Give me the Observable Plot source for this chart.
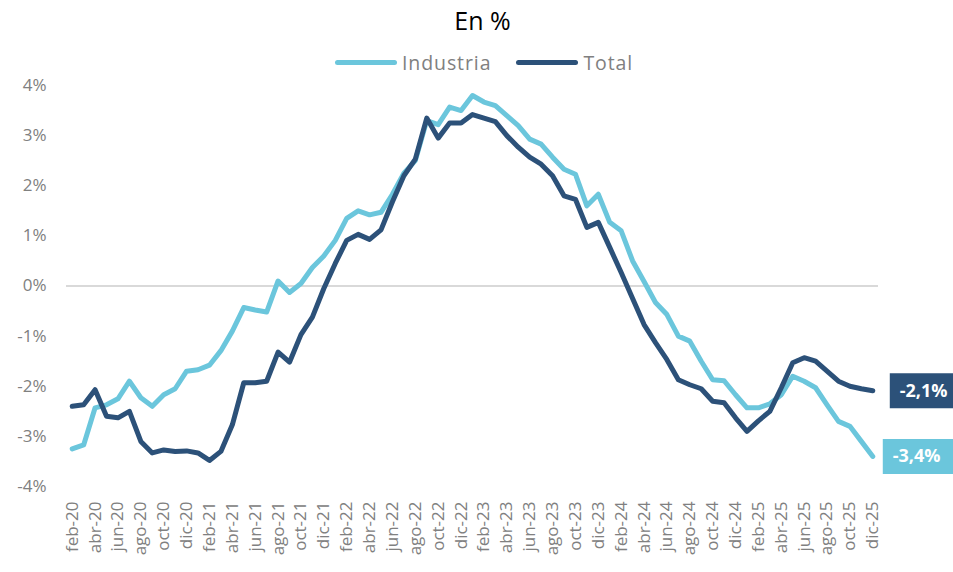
<!DOCTYPE html>
<html>
<head>
<meta charset="utf-8">
<script src="https://cdn.jsdelivr.net/npm/d3@7"></script>
<script src="https://cdn.jsdelivr.net/npm/@observablehq/plot@0.6"></script>
<style>
  body { margin: 0; background: #fff; font-family: "Open Sans", sans-serif; }
  #wrap { width: 953px; height: 572px; overflow: hidden; position: relative; }
  #title { height: 38px; line-height: 40px; text-align: center; font-size: 25px; color: #000; padding-left: 12px; box-sizing: border-box; }
  #legend { height: 32px; padding-top: 16px; box-sizing: border-box; display: flex; justify-content: flex-start; align-items: center; padding-left: 335px; font-size: 19.5px; letter-spacing: 0.9px; color: #808080; }
  .item { display: flex; align-items: center; margin-right: 25px; }
  .sw { display: inline-block; width: 62px; height: 5px; border-radius: 3px; margin-right: 5px; }
</style>
</head>
<body>
<div id="wrap">
  <div id="title">En %</div>
  <div id="legend"></div>
  <div id="chart"></div>
</div>
<script>
// Categories: monthly, feb-20 ... dic-25
const monthNames = ["ene","feb","mar","abr","may","jun","jul","ago","sep","oct","nov","dic"];
const months = [];
for (let yr = 20; yr <= 25; yr++) {
  for (let m = 0; m < 12; m++) {
    if (yr === 20 && m === 0) continue;
    months.push(`${monthNames[m]}-${yr}`);
  }
}

// Series values (%)
const industria = [
  -3.25, -3.17, -2.43, -2.37, -2.25, -1.90, -2.23, -2.40, -2.17, -2.05, -1.70,
  -1.67, -1.58, -1.29, -0.90, -0.43, -0.48, -0.52, 0.10, -0.13, 0.05, 0.37, 0.60,
  0.91, 1.35, 1.50, 1.42, 1.47, 1.83, 2.25, 2.50, 3.30, 3.22, 3.57, 3.50,
  3.80, 3.67, 3.60, 3.40, 3.20, 2.93, 2.83, 2.57, 2.33, 2.23, 1.60, 1.83,
  1.27, 1.10, 0.50, 0.09, -0.33, -0.57, -1.00, -1.10, -1.50, -1.87, -1.89, -2.17,
  -2.43, -2.43, -2.35, -2.17, -1.80, -1.90, -2.03, -2.37, -2.70, -2.80, -3.10, -3.40
];
const total = [
  -2.40, -2.37, -2.07, -2.60, -2.63, -2.50, -3.10, -3.33, -3.27, -3.30, -3.29,
  -3.33, -3.48, -3.30, -2.77, -1.93, -1.93, -1.90, -1.32, -1.52, -0.97, -0.62, -0.05,
  0.45, 0.91, 1.03, 0.93, 1.12, 1.68, 2.20, 2.53, 3.35, 2.95, 3.25, 3.25,
  3.42, 3.35, 3.28, 3.00, 2.77, 2.57, 2.43, 2.20, 1.80, 1.73, 1.17, 1.27,
  0.77, 0.27, -0.25, -0.77, -1.13, -1.47, -1.87, -1.97, -2.05, -2.30, -2.33, -2.63,
  -2.90, -2.69, -2.50, -2.03, -1.53, -1.43, -1.50, -1.70, -1.90, -2.00, -2.05, -2.09
];

const seriesNames = ["Industria", "Total"];
const seriesColors = ["#6bc6dc", "#2c5179"];
const yTicks = [-4, -3, -2, -1, 0, 1, 2, 3, 4];
const xTicks = months.filter((d, i) => i % 2 === 0);

const indRows = months.map((m, i) => ({month: m, value: industria[i]}));
const totRows = months.map((m, i) => ({month: m, value: total[i]}));
const lastInd = [indRows[indRows.length - 1]];
const lastTot = [totRows[totRows.length - 1]];
const fmt = v => v.toFixed(1).replace(".", ",") + "%";

// Rectangular label-box symbol (drawn relative to the end point)
const boxSymbol = (left) => ({
  draw(ctx) { ctx.rect(left, -17.5, 100, 35); }
});

// Legend
const legend = document.getElementById("legend");
seriesNames.forEach((s, i) => {
  const it = document.createElement("span");
  it.className = "item";
  it.innerHTML = `<span class="sw" style="background:${seriesColors[i]}"></span><span>${s}</span>`;
  legend.appendChild(it);
});

const chart = Plot.plot({
  width: 953,
  height: 502,
  marginTop: 15,
  marginBottom: 86,
  marginLeft: 66,
  marginRight: 75,
  style: {fontFamily: "'Open Sans', sans-serif", background: "transparent"},
  x: {type: "point", domain: months, padding: 0.5, label: null},
  y: {domain: [-4, 4], label: null},
  marks: [
    Plot.ruleY([0], {stroke: "#d9d9d9", strokeWidth: 2}),
    Plot.axisY({ticks: yTicks, tickFormat: d => `${d}%`, tickSize: 0, tickPadding: 20, fontSize: 17, fill: "#808080", label: null}),
    Plot.axisX({ticks: xTicks, tickRotate: -90, tickSize: 0, tickPadding: 15, fontSize: 17, fill: "#808080", label: null}),
    Plot.line(indRows, {x: "month", y: "value", stroke: seriesColors[0], strokeWidth: 5, strokeLinejoin: "round", strokeLinecap: "round"}),
    Plot.line(totRows, {x: "month", y: "value", stroke: seriesColors[1], strokeWidth: 5, strokeLinejoin: "round", strokeLinecap: "round"}),
    Plot.dot(lastTot, {x: "month", y: "value", symbol: boxSymbol(17), r: 10, fill: seriesColors[1], stroke: "none"}),
    Plot.dot(lastInd, {x: "month", y: "value", symbol: boxSymbol(10), r: 10, fill: seriesColors[0], stroke: "none"}),
    Plot.text(lastTot, {x: "month", y: "value", text: d => fmt(d.value), dx: 27, textAnchor: "start", fill: "white", fontWeight: "bold", fontSize: 18}),
    Plot.text(lastInd, {x: "month", y: "value", text: d => fmt(d.value), dx: 20, textAnchor: "start", fill: "white", fontWeight: "bold", fontSize: 18})
  ]
});
document.getElementById("chart").appendChild(chart);
</script>
</body>
</html>
